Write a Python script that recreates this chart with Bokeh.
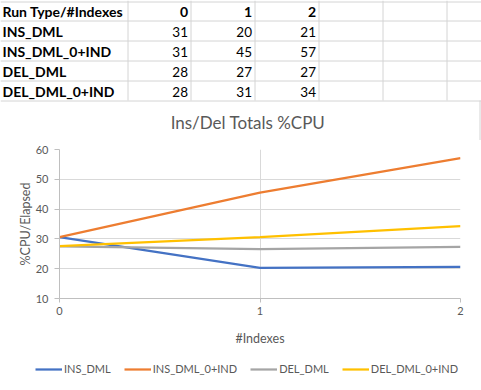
from bokeh.plotting import figure
from bokeh.models import Range1d, FixedTicker, Legend, LegendItem, ColumnDataSource
from bokeh.core.properties import value
from bokeh.embed import file_html
from bokeh.resources import INLINE

# ---------------- data ----------------
indexes = [0, 1, 2]
header_label = "Run Type/#Indexes"
run_types = ["INS_DML", "INS_DML_0+IND", "DEL_DML", "DEL_DML_0+IND"]
# table values, as shown in the sheet
tbl_ins_dml = [31, 20, 21]
tbl_ins_dml_ind = [31, 45, 57]
tbl_del_dml = [28, 27, 27]
tbl_del_dml_ind = [28, 31, 34]
# chart values
ins_dml = [30.6, 20.3, 20.6]
ins_dml_ind = [30.6, 45.5, 57.1]
del_dml = [27.5, 26.6, 27.3]
del_dml_ind = [27.6, 30.6, 34.3]
colors = ["#4472C4", "#ED7D31", "#A5A5A5", "#FFC000"]
title_text = "Ins/Del Totals %CPU"
y_title = "%CPU/Elapsed"
x_title = "#Indexes"
y_ticks = [10, 20, 30, 40, 50, 60]

FONT = value("Lato")
W = 481
GRID = "#d4d4d4"
TXT = "#595959"

def blank(height, yr):
    f = figure(width=W, height=height, x_range=Range1d(0, W), y_range=yr,
               output_backend="svg", toolbar_location=None, min_border=0, title=None,
               x_axis_location=None, y_axis_location=None,
               outline_line_color=None, background_fill_color="white",
               border_fill_color="white")
    f.grid.visible = False
    return f

# ---------------- sheet table (+ chart title strip) ----------------
TH = 140
t = blank(TH, Range1d(TH, 0))

col_edges = [127, 190, 254, 318, 382, 446]
row_h = 20
n_rows = 1 + len(run_types)
table_h = row_h * n_rows
vxs = [e + 0.5 for e in col_edges]
t.segment(x0=vxs, y0=[0] * len(vxs), x1=vxs, y1=[table_h] * len(vxs),
          line_color=GRID, line_width=1)
hl = [1.5] + [row_h * (i + 1) + 0.5 for i in range(n_rows)]
t.segment(x0=[0] * len(hl), y0=hl, x1=[W] * len(hl), y1=hl, line_color=GRID, line_width=1)
# sheet grid visible right of the chart area
t.segment(x0=[479.5], y0=[table_h], x1=[479.5], y1=[TH], line_color=GRID, line_width=1)

# bold labels: header row and first column
bold_x, bold_y, bold_t, bold_align = [], [], [], []
bold_x.append(2); bold_y.append(11); bold_t.append(header_label); bold_align.append("left")
for j, ix in enumerate(indexes):
    bold_x.append(col_edges[j + 1] - 2.5); bold_y.append(11)
    bold_t.append(str(ix)); bold_align.append("right")
for i, rt in enumerate(run_types):
    bold_x.append(2); bold_y.append(row_h * (i + 1) + 11); bold_t.append(rt); bold_align.append("left")
t.text(x="x", y="y", text="t", text_align="a",
       source=ColumnDataSource(dict(x=bold_x, y=bold_y, t=bold_t, a=bold_align)),
       text_font=FONT, text_font_style="bold", text_font_size="14px",
       text_color="black", text_baseline="middle")

tables = [tbl_ins_dml, tbl_ins_dml_ind, tbl_del_dml, tbl_del_dml_ind]
vx, vy, vt = [], [], []
for i, row in enumerate(tables):
    for j, v in enumerate(row):
        vx.append(col_edges[j + 1] - 2.5); vy.append(row_h * (i + 1) + 11); vt.append(str(v))
t.text(x="x", y="y", text="t", source=ColumnDataSource(dict(x=vx, y=vy, t=vt)),
       text_font=FONT, text_font_size="13.5px", text_color="black",
       text_align="right", text_baseline="middle")

# chart title
t.text(x=[247.5], y=[121.5], text=[title_text], text_font=FONT, text_font_size="17px",
       text_color=TXT, text_align="center", text_baseline="middle")

# ---------------- chart ----------------
p = figure(width=W, height=209, x_range=Range1d(0, 2), y_range=Range1d(10, 60),
           output_backend="svg", toolbar_location=None, title=None,
           min_border_left=59, min_border_right=21, min_border_top=9, min_border_bottom=51,
           outline_line_color=None, background_fill_color="white", border_fill_color="white")

for ax in (p.xaxis[0], p.yaxis[0]):
    ax.axis_line_color = "#bfbfbf"
    ax.major_tick_line_color = "#bfbfbf"
    ax.minor_tick_line_color = None
    ax.major_tick_in = 0
    ax.major_label_text_font = "Lato"
    ax.major_label_text_font_size = "11px"
    ax.major_label_text_color = TXT
    ax.axis_label_text_font = "Lato"
    ax.axis_label_text_font_size = "12.5px"
    ax.axis_label_text_font_style = "normal"
    ax.axis_label_text_color = TXT

p.xaxis.ticker = FixedTicker(ticks=indexes)
p.xaxis.major_tick_out = 4
p.xaxis.major_label_standoff = 4
p.xaxis.axis_label = x_title
p.xaxis.axis_label_standoff = 13

p.yaxis.ticker = FixedTicker(ticks=y_ticks)
p.yaxis.major_tick_out = 5
p.yaxis.major_label_standoff = 6
p.yaxis.axis_label = y_title
p.yaxis.axis_label_standoff = 0

p.xgrid.ticker = FixedTicker(ticks=indexes)
p.ygrid.ticker = FixedTicker(ticks=y_ticks)
p.grid.grid_line_color = "#d9d9d9"
p.grid.grid_line_width = 1

series = [("INS_DML", ins_dml), ("INS_DML_0+IND", ins_dml_ind),
          ("DEL_DML", del_dml), ("DEL_DML_0+IND", del_dml_ind)]
for (name, ys), c in zip(series, colors):
    p.line(x=indexes, y=ys, line_color=c, line_width=2.25)

# ---------------- legend strip ----------------
LH = 41
lg = blank(LH, Range1d(0, LH))
items = []
for (name, ys), c in zip(series, colors):
    # same series, kept hidden here: only its legend swatch is shown
    r = lg.line(x=indexes, y=ys, line_color=c, line_width=2.25, visible=False)
    items.append(LegendItem(label=name, renderers=[r]))
legend = Legend(items=items, location=(35, 15), orientation="horizontal",
                label_text_font="Lato", label_text_font_size="11px",
                label_text_color=TXT, glyph_width=27, glyph_height=12,
                label_height=12, label_standoff=2, spacing=13, padding=0, margin=0,
                inactive_fill_alpha=0, border_line_color=None, background_fill_alpha=0)
lg.add_layout(legend)

open("out.html", "w").write(file_html([t, p, lg], INLINE))
